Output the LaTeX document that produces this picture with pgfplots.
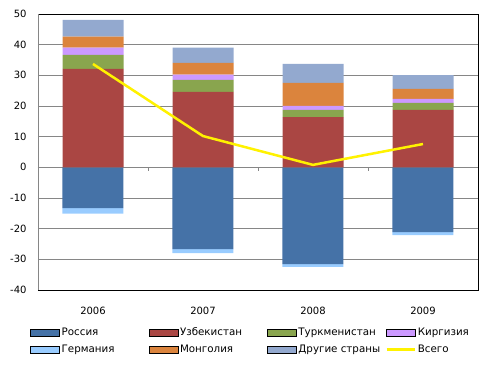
\documentclass[border=0pt]{standalone}
\usepackage{fontspec}
\setmainfont{DejaVu Sans}
\usepackage{pgfplots}
\pgfplotsset{compat=1.18}
\definecolor{cRus}{HTML}{4572A7}
\definecolor{cUzb}{HTML}{AA4643}
\definecolor{cTur}{HTML}{89A54E}
\definecolor{cKir}{HTML}{CC99FF}
\definecolor{cGer}{HTML}{99CCFF}
\definecolor{cMon}{HTML}{DB843D}
\definecolor{cOth}{HTML}{93A9CF}
\definecolor{cGrid}{RGB}{134,134,134}
\pgfplotsset{
  commonaxis/.style={scale only axis, width=440bp, height=276bp,
    xmin=-0.5, xmax=3.5, ymin=-40, ymax=50, anchor=south west, at={(0,0)}},
  mybox/.style={legend image code/.code={\fill[##1] (0bp,-3.5bp) rectangle (29bp,3.5bp);}},
  myline/.style={legend image code/.code={\draw[##1] (0bp,0bp) -- (28bp,0bp);}},
}
\begin{document}
\begin{tikzpicture}
% axis 1: grid, frame, negative stack
\begin{axis}[commonaxis,
  ybar stacked, bar width=61bp,
  axis line style={black, line width=0.8bp},
  ytick={-40,-30,...,50},
  ymajorgrids, grid style={cGrid, line width=0.8bp},
  major tick length=0,
  xtick={0,1,2,3}, xticklabels={2006,2007,2008,2009},
  xticklabel style={yshift=-14bp},
  yticklabel style={xshift=-8bp},
  /pgf/number format/assume math mode=true,
  tick label style={font=\fontsize{10bp}{12bp}\selectfont},
]
\addplot[fill=cRus, draw=none] coordinates {(0,-13.3) (1,-26.7) (2,-31.6) (3,-21.1)};
\addplot[fill=cGer, draw=none] coordinates {(0,-1.8) (1,-1.3) (2,-0.9) (3,-1.0)};
\draw[cGrid, line width=0.8bp] (axis cs:-0.5,-40) -- (axis cs:-0.5,50);
\draw[cGrid, line width=0.8bp] (axis cs:-0.5,0) -- (axis cs:3.5,0);
\pgfplotsinvokeforeach{0.5,1.5,2.5,3.5}{
  \draw[cGrid, line width=0.8bp] (axis cs:#1,0) -- ++(0pt,-4bp);
}
\end{axis}
% axis 2: positive stack
\begin{axis}[commonaxis, hide axis, ybar stacked, bar width=61bp]
\addplot[fill=cUzb, draw=none] coordinates {(0,32.1) (1,24.6) (2,16.4) (3,18.7)};
\addplot[fill=cTur, draw=none] coordinates {(0,4.6) (1,3.9) (2,2.3) (3,2.3)};
\addplot[fill=cKir, draw=none] coordinates {(0,2.3) (1,1.7) (2,1.3) (3,1.3)};
\addplot[fill=cMon, draw=none] coordinates {(0,3.6) (1,3.9) (2,7.5) (3,3.3)};
\addplot[fill=cOth, draw=none] coordinates {(0,5.5) (1,4.9) (2,6.2) (3,4.5)};
\end{axis}
% axis 3: total line and legend
\begin{axis}[commonaxis, hide axis,
  legend columns=4,
  legend cell align=left,
  legend style={at={(-0.018,-0.128)}, anchor=north west, draw=none, fill=none,
    inner sep=0pt, row sep=4bp,
    font=\fontsize{10.3bp}{12bp}\selectfont,
    /tikz/every even column/.append style={column sep=0pt}},
]
\addlegendimage{mybox, fill=cRus}
\addlegendentry{\makebox[85bp][l]{Россия}}
\addlegendimage{mybox, fill=cUzb}
\addlegendentry{\makebox[85bp][l]{Узбекистан}}
\addlegendimage{mybox, fill=cTur}
\addlegendentry{\makebox[85bp][l]{Туркменистан}}
\addlegendimage{mybox, fill=cKir}
\addlegendentry{\makebox[85bp][l]{Киргизия}}
\addlegendimage{mybox, fill=cGer}
\addlegendentry{\makebox[85bp][l]{Германия}}
\addlegendimage{mybox, fill=cMon}
\addlegendentry{\makebox[85bp][l]{Монголия}}
\addlegendimage{mybox, fill=cOth}
\addlegendentry{\makebox[85bp][l]{Другие страны}}
\addplot[yellow, line width=2.5bp, sharp plot, no marks, myline] coordinates {(0,33.7) (1,10.2) (2,0.8) (3,7.6)};
\addlegendentry{\makebox[85bp][l]{Всего}}
\end{axis}
\pgfresetboundingbox
\path[use as bounding box] (-38bp,-75bp) rectangle (455bp,290bp);
\end{tikzpicture}
\end{document}
